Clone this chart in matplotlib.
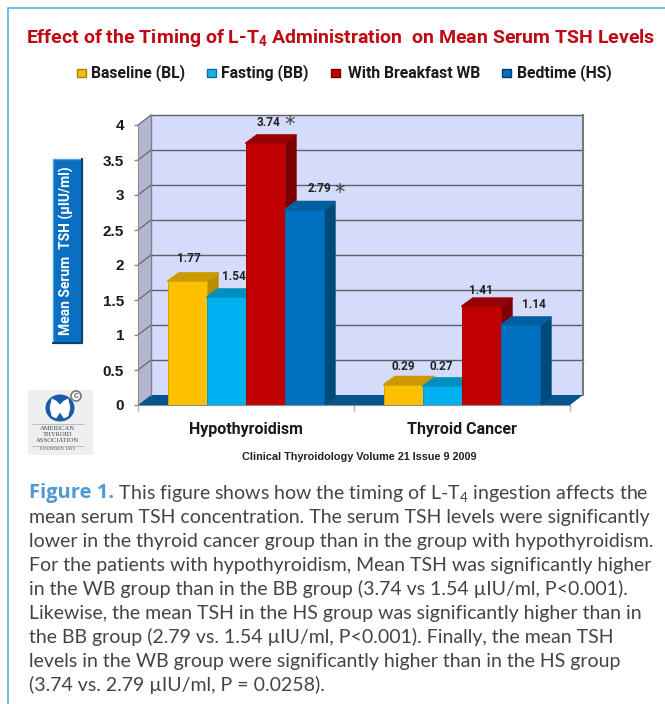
import matplotlib
matplotlib.use("Agg")
import matplotlib.pyplot as plt
from matplotlib.patches import Polygon, Rectangle, Ellipse
from matplotlib.transforms import Affine2D, IdentityTransform

categories = ["Hypothyroidism", "Thyroid Cancer"]
series_names = ["Baseline (BL)", "Fasting (BB)", "With Breakfast WB", "Bedtime (HS)"]
baseline = [1.77, 0.29]
fasting = [1.54, 0.27]
breakfast = [3.74, 1.41]
bedtime = [2.79, 1.14]
yticks = [0, 0.5, 1, 1.5, 2, 2.5, 3, 3.5, 4]
ylabels = ["0", "0.5", "1", "1.5", "2", "2.5", "3", "3.5", "4"]
title_text = "Effect of the Timing of L-T$_4$ Administration  on Mean Serum TSH Levels"
ylabel_text = "Mean Serum  TSH (µIU/ml)"
source_text = "Clinical Thyroidology Volume 21 Issue 9 2009"
caption_head = "Figure 1."
caption_lines = [
    " This figure shows how the timing of L-T$_4$ ingestion affects the",
    "mean serum TSH concentration. The serum TSH levels were significantly",
    "lower in the thyroid cancer group than in the group with hypothyroidism.",
    "For the patients with hypothyroidism, Mean TSH was significantly higher",
    "in the WB group than in the BB group (3.74 vs 1.54 µIU/ml, P<0.001).",
    "Likewise, the mean TSH in the HS group was significantly higher than in",
    "the BB group (2.79 vs. 1.54 µIU/ml, P<0.001). Finally, the mean TSH",
    "levels in the WB group were significantly higher than in the HS group",
    "(3.74 vs. 2.79 µIU/ml, P = 0.0258).",
]

W, H = 665, 704
NARROW = "Roboto"
plt.rcParams["font.family"] = ["Liberation Sans"]
plt.rcParams["mathtext.default"] = "regular"

fig = plt.figure(figsize=(W / 100, H / 100), dpi=100, facecolor="white")
ax = fig.add_axes([138 / W, (H - 405) / H, 432 / W, 280 / H])
ax.set_xlim(-0.5, 1.5)
ax.set_ylim(0, 4)
ax.patch.set_alpha(0)
for s in ["top", "right"]:
    ax.spines[s].set_visible(False)
for s in ["left", "bottom"]:
    ax.spines[s].set_color("#8f8f8f")
    ax.spines[s].set_zorder(30)

ov = fig.add_axes([0, 0, 1, 1], zorder=5)
ov.set_xlim(0, W)
ov.set_ylim(H, 0)
ov.axis("off")
ov.patch.set_alpha(0)

WALL_DX, WALL_DY = 13, 10
BAR_DX, BAR_DY = 11, 8
wall_shift = ax.transData + Affine2D().translate(WALL_DX, WALL_DY)


def disp(x, y, dx=0, dy=0):
    px, py = ax.transData.transform((x, y))
    return (px + dx, py + dy)


def poly(points, color, z, edge=None, lw=0.0):
    ax.add_patch(Polygon(points, closed=True, facecolor=color, edgecolor=edge or color,
                         linewidth=lw, transform=IdentityTransform(), clip_on=False,
                         zorder=z, joinstyle="round"))


# walls and floor
poly([disp(-0.5, 0), disp(-0.5, 4), disp(-0.5, 4, WALL_DX, WALL_DY), disp(-0.5, 0, WALL_DX, WALL_DY)],
     "#B2B7CF", 1)
poly([disp(-0.5, 0, WALL_DX, WALL_DY), disp(-0.5, 4, WALL_DX, WALL_DY),
      disp(1.5, 4, WALL_DX, WALL_DY), disp(1.5, 0, WALL_DX, WALL_DY)], "#D5DBFB", 1)
poly([disp(-0.5, 0), disp(1.5, 0), disp(1.5, 0, WALL_DX, WALL_DY), disp(-0.5, 0, WALL_DX, WALL_DY)],
     "#00558F", 2)
for v in yticks[1:]:
    ax.plot([-0.5, 1.5], [v, v], color="#5c5f66", lw=1.0, transform=wall_shift,
            clip_on=False, zorder=3)
    a, b = disp(-0.5, v), disp(-0.5, v, WALL_DX, WALL_DY)
    ax.plot([a[0], b[0]], [a[1], b[1]], color="#5c5f66", lw=0.8, transform=IdentityTransform(),
            clip_on=False, zorder=3)
ax.plot([-0.5, -0.5], [0, 4], color="#7d8090", lw=1.0, transform=wall_shift, clip_on=False, zorder=3)
ax.plot([1.5, 1.5], [0, 4], color="#777777", lw=1.4, transform=wall_shift, clip_on=False, zorder=3)

# bars
styles = [
    (baseline, "#FFC000", "#CC9A00", "#B98C00", "#D9A400"),
    (fasting, "#00B1F1", "#008FBE", "#007CA8", "#0A98CF"),
    (breakfast, "#C00000", "#960000", "#7C0000", "#A80000"),
    (bedtime, "#0070C0", "#00609F", "#004A7C", "#0062A8"),
]
width = 39 / 216
z = 5
for i, (vals, front, top, side, edge) in enumerate(styles):
    xs = [c + (i - 1.5) * width for c in range(len(categories))]
    ax.bar(xs, vals, width=width, color=front, edgecolor=edge, linewidth=0.7, zorder=z + 2)
    for x, v in zip(xs, vals):
        l, r = x - width / 2, x + width / 2
        poly([disp(r, 0), disp(r, v), disp(r, v, BAR_DX, BAR_DY), disp(r, 0, BAR_DX, BAR_DY)],
             side, z, lw=1.0)
        poly([disp(l, v), disp(r, v), disp(r, v, BAR_DX, BAR_DY), disp(l, v, BAR_DX, BAR_DY)],
             top, z + 1, lw=1.4)
    z += 3

# axes ticks
ax.set_yticks(yticks, ylabels, fontsize=11, fontweight="bold", color="#1a1a1a")
ax.tick_params(axis="y", length=3, width=1, color="#8f8f8f", pad=7)
ax.set_xticks([0, 1], categories, fontsize=11.5, fontweight="bold", color="#1a1a1a", family=NARROW)
ax.tick_params(axis="x", which="major", length=0, pad=12)
ax.set_xticks([-0.5, 0.5, 1.5], minor=True)
ax.tick_params(axis="x", which="minor", length=4, width=1, color="#b0b0b0")

# value labels (pixel placement of each label in reading order)
label_pos = [(189, 259), (403, 367), (234, 277), (441, 367), (269, 122), (481, 291), (319, 189), (534, 305)]
vals_flat = [v for s in (baseline, fasting, breakfast, bedtime) for v in s]
for v, (px, py) in zip(vals_flat, label_pos):
    ov.text(px, py, f"{v:.2f}", ha="center", va="center", fontsize=8.5, fontweight="bold",
            family=NARROW, color="#222222")
for px, py in [(290, 125), (339.5, 193)]:
    ov.text(px, py, "*", ha="center", va="center", fontsize=15, color="#444444",
            family="DejaVu Sans")

# frame
ov.plot([8, 8, W], [H, 8, 8], color="#63ADDF", lw=1.2, solid_joinstyle="miter")

# title and legend
ov.text(341, 38, title_text, ha="center", va="center", fontsize=14, fontweight="bold",
        family=NARROW, color="#C00A12")
leg_x = [(77, 91), (207, 221), (331, 348), (502, 517)]
leg_cols = [("#F2BC10", "#A88400"), ("#18B0E8", "#0A6E9A"), ("#C00000", "#6A0000"), ("#0070C0", "#003E70")]
for name, (mx, tx), (c, e) in zip(series_names, leg_x, leg_cols):
    ov.add_patch(Rectangle((mx, 69), 9, 8, facecolor=c, edgecolor=e, linewidth=1))
    ov.text(tx, 73, name, ha="left", va="center", fontsize=11.3, fontweight="bold",
            family=NARROW, color="#1a1a1a")

# y-axis title box
ov.add_patch(Rectangle((53, 159), 29, 184, facecolor="#0A6FC0", edgecolor="#4FA3E0", linewidth=1))
ov.plot([53, 82, 82], [343, 343, 159], color="#0A3D6A", lw=1.4)
ov.text(66.5, 251, ylabel_text, rotation=90, ha="center", va="center", fontsize=10,
        fontweight="bold", family=NARROW, color="white")

# source
ov.text(359.5, 457, source_text, ha="center", va="center", fontsize=7.8, fontweight="bold",
        color="#222222")

# logo
ov.add_patch(Rectangle((28, 390), 65, 65, facecolor="#EEEFF1", edgecolor="none"))
ov.add_patch(Ellipse((60, 408), 29, 27, facecolor="#1B5CA6", edgecolor="none"))
ov.add_patch(Polygon([(52, 399), (56, 401), (60, 405), (64, 401), (68, 399), (70, 408), (68, 416),
                      (64, 418), (60, 412), (56, 418), (52, 416), (50, 408)],
                     facecolor="white", edgecolor="white", lw=0.5, joinstyle="round"))
ov.add_patch(Ellipse((76, 396), 10, 10, facecolor="white", edgecolor="#777777", linewidth=1.2))
ov.text(76, 396, "C", ha="center", va="center", fontsize=5, color="#555555", fontweight="bold")
for yy, t, fs in [(428, "AMERICAN", 4.8), (434.5, "THYROID", 4.8), (441, "ASSOCIATION", 4.8), (449.5, "FOUNDED 1923", 3.6)]:
    ov.text(58, yy, t, ha="center", va="center", fontsize=fs, family="Liberation Serif", color="#444444")
ov.plot([32, 84], [424, 424], color="#aaaaaa", lw=0.5)
ov.plot([32, 84], [445.5, 445.5], color="#aaaaaa", lw=0.5)

# caption
CAP_FONT = "Lato"
CAP_SIZE = 14.0
y0, step = 493, 24
head = ov.text(29, y0, caption_head, ha="left", va="center", fontsize=14.5, fontweight="bold",
               family="Open Sans", color="#4D9BD2")
for i, line in enumerate(caption_lines):
    if i == 0:
        ov.annotate(line, xy=(1, 0.5), xycoords=head, ha="left", va="center", fontsize=CAP_SIZE,
                    family=CAP_FONT, color="#444444")
    else:
        ov.text(29, y0 + i * step, line, ha="left", va="center", fontsize=CAP_SIZE,
                family=CAP_FONT, color="#444444")

fig.savefig("out.png", dpi=100)
